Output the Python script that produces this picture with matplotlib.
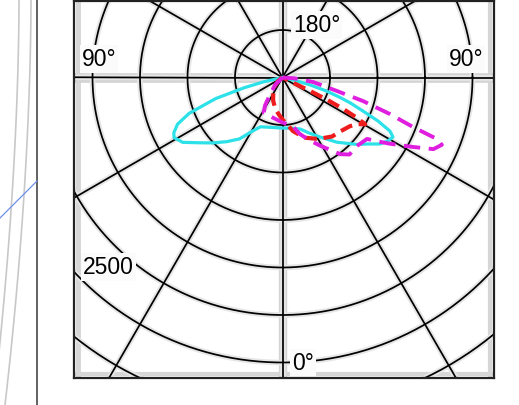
import numpy as np
import matplotlib.pyplot as plt

plt.rcParams['font.family'] = ['Liberation Sans', 'DejaVu Sans']

# polar grid: circles every 500 cd, radial lines every 30 deg
ring_cd = [500, 1000, 1500, 2000, 2500, 3000, 3500, 4000]
spoke_deg = [0, 30, 60, 90, 120, 150, 180, 210, 240, 270, 300, 330]

# curves: gamma angle from nadir (negative = left half), intensity in cd
cyan_gamma = [-78, -77, -75, -72.5, -69, -66, -63, -61, -57, -52, -47, -41, -35, -29, -24, -12,
              0, 12, 19, 26, 32, 40, 48, 52, 55.7, 59, 61.7, 63.5, 65.5, 67.4, 69.5, 71, 73, 75, 77, 78]
cyan_cd = [0, 210, 420, 737, 1053, 1210, 1284, 1305, 1253, 1116, 1010, 895, 789, 642, 568, 537,
           532, 547, 574, 653, 737, 889, 1053, 1137, 1242, 1295, 1321, 1263, 1105, 916, 758, 632, 474, 295, 126, 0]

red_gamma = [-62, -52, -42, -33, -22, -13, -6, 0, 5.5, 11, 20, 30, 40, 47, 54, 58, 60.5,
             61.5, 62.5, 63.5, 64, 63.5, 62]
red_cd = [0, 63, 116, 179, 263, 337, 389, 442, 495, 574, 674, 747, 811, 832, 874, 926, 1000,
          895, 737, 526, 316, 126, 0]

mag_gamma = [-48, -45, -38, -34, -32, -28, -15, 0, 12, 17, 23, 29, 37, 41, 47, 54, 56, 58.3,
             62, 64.6, 67.1, 68.3, 69.2, 71.2, 73.7, 76.1, 81.6, 86, 89]
mag_cd = [0, 105, 189, 274, 347, 421, 432, 474, 526, 621, 716, 821, 1011, 1074, 1063, 1100, 1200, 1326,
          1558, 1758, 1821, 1747, 1474, 1195, 884, 589, 326, 126, 0]


def to_xy(gamma, cd):
    g = np.radians(np.array(gamma, dtype=float))
    r = np.array(cd, dtype=float)
    return r * np.sin(g), -r * np.cos(g)


fig = plt.figure(figsize=(5.19, 4.06), dpi=100)

# page background (bits of the surrounding document on the left)
bg = fig.add_axes([0, 0, 1, 1])
bg.set_xlim(0, 519)
bg.set_ylim(406, 0)
bg.axis('off')
yy = np.linspace(0, 406, 50)
bg.plot(19 - 19 * (yy / 343) ** 1.8, yy, color='#c8c8c8', lw=1.2)
bg.plot(31 - 26 * (yy / 406) ** 1.8, yy, color='#c8c8c8', lw=1.2)
bg.plot([37, 37], [0, 406], color='#555555', lw=1.3)
bg.plot([0, 37], [219, 182], color='#6f8ff0', lw=0.9)

ax = fig.add_axes([74 / 519, 27 / 406, 419.5 / 519, 377 / 406])
k = 500 / 47.5
ax.set_xlim(-208.5 * k, 211 * k)
ax.set_ylim(-300.5 * k, 76.5 * k)
ax.set_xticks([])
ax.set_yticks([])
for s in ax.spines.values():
    s.set_color('#222222')
    s.set_linewidth(1.6)
    s.set_zorder(10)

# light grey bands along the frame and the 0-180 / 90-90 axes
ax.axvline(-204.5 * k, color='#d6d6d6', lw=3.5, zorder=1)
ax.axvline(207 * k, color='#d6d6d6', lw=3, zorder=1)
ax.axhline(-296.5 * k, color='#d6d6d6', lw=3, zorder=1)
ax.axhline(0, color='#d4d4d4', lw=7, zorder=1)
ax.axvline(0, color='#d4d4d4', lw=6, zorder=1)

t = np.linspace(0, 2 * np.pi, 400)
for r in ring_cd:
    ax.plot(r * np.cos(t), r * np.sin(t), color='#e6e6e6', lw=4, zorder=1.5)
    ax.plot(r * np.cos(t), r * np.sin(t), color='black', lw=1.25, zorder=2)
for a in spoke_deg:
    ang = np.radians(a)
    R = 6000
    ax.plot([0, R * np.sin(ang)], [0, -R * np.cos(ang)], color='#e6e6e6', lw=4, zorder=1.5)
    ax.plot([0, R * np.sin(ang)], [0, -R * np.cos(ang)], color='black', lw=1.25, zorder=2)

x, y = to_xy(cyan_gamma, cyan_cd)
ax.plot(x, y, color='#2ce1e8', lw=2.3, zorder=4, solid_joinstyle='round')
x, y = to_xy(red_gamma, red_cd)
ax.plot(x, y, color='#ee1c1c', lw=3.0, dashes=(3, 1.6), zorder=5)
x, y = to_xy(mag_gamma, mag_cd)
ax.plot(x, y, color='#e01ee0', lw=2.8, dashes=(4.2, 2.2), zorder=6)

box = dict(facecolor='#fbfbfb', edgecolor='none', pad=1.5)
ax.text(10.5 * k, 52.5 * k, '180°', fontsize=16.5, ha='left', va='center', bbox=box, zorder=7)
ax.text(-183.5 * k, 18.5 * k, '90°', fontsize=16.5, ha='center', va='center', bbox=box, zorder=7)
ax.text(183.5 * k, 18.5 * k, '90°', fontsize=16.5, ha='center', va='center', bbox=box, zorder=7)
ax.text(9.5 * k, -285.5 * k, '0°', fontsize=16.5, ha='left', va='center', bbox=box, zorder=7)
ax.text(-174.5 * k, -189.5 * k, '2500', fontsize=16.5, ha='center', va='center', bbox=box, zorder=7)

fig.savefig('out.png', dpi=100)
